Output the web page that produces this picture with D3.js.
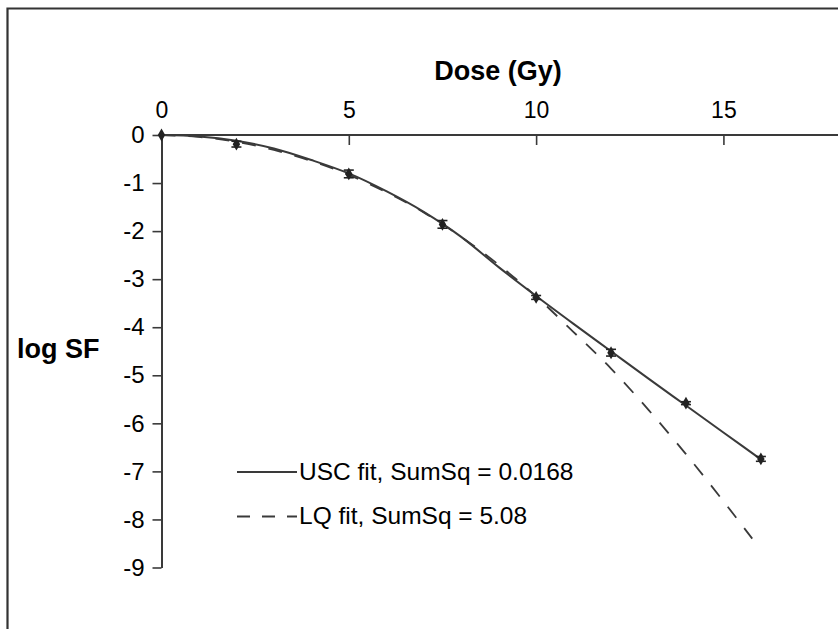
<!DOCTYPE html>
<html>
<head>
<meta charset="utf-8">
<script src="https://cdn.jsdelivr.net/npm/d3@7/dist/d3.min.js"></script>
<style>
  html, body { margin: 0; padding: 0; background: #fff; }
  svg { display: block; }
  text { font-family: "Liberation Sans", Arial, sans-serif; fill: #000; }
</style>
</head>
<body>
<svg id="chart" width="838" height="629"></svg>
<script>
// Measured survival: dose (Gy), log10 surviving fraction, error half-width
const doses  = [0, 2, 5, 7.5, 10, 12, 14, 16];
const logSF  = [0, -0.19, -0.81, -1.86, -3.38, -4.53, -5.58, -6.74];
const errors = [0, 0.06, 0.08, 0.08, 0.04, 0.07, 0.03, 0.05];

// Universal survival curve fit
const uscDose  = [0, 1, 2, 3, 4, 5, 6, 7, 8, 9, 10, 11, 12, 13, 14, 15, 16];
const uscLogSF = [0, -0.03, -0.12, -0.28, -0.52, -0.80, -1.17, -1.60, -2.12, -2.75, -3.35, -3.93, -4.50, -5.07, -5.63, -6.19, -6.75];

// Linear-quadratic fit
const lqDose  = [0, 1, 2, 3, 4, 5, 6, 7, 8, 9, 10, 11, 12, 13, 14, 15, 15.77];
const lqLogSF = [0, -0.04, -0.14, -0.31, -0.54, -0.83, -1.19, -1.61, -2.12, -2.70, -3.36, -4.10, -4.86, -5.72, -6.64, -7.62, -8.40];

const xTicks = [0, 5, 10, 15];
const yTicks = [0, -1, -2, -3, -4, -5, -6, -7, -8, -9];

const legendLabels = ["USC fit, SumSq = 0.0168", "LQ fit, SumSq = 5.08"];

const ink = "#3a3a3a";
const svg = d3.select("#chart");

// outer frame (open to the right and bottom)
svg.append("path")
  .attr("d", "M7.5,629 V8.5 H838")
  .attr("fill", "none")
  .attr("stroke", "#333")
  .attr("stroke-width", 2.2);

const x = d3.scaleLinear().domain([0, 18]).range([161.5, 835.8]);
const y = d3.scaleLinear().domain([0, -9]).range([135, 567.5]);

// x axis along log SF = 0, labels above, ticks pointing down
const xAxis = svg.append("g")
  .attr("transform", `translate(0,${y(0)})`)
  .call(d3.axisTop(x).tickValues(xTicks).tickSizeInner(-10).tickSizeOuter(0).tickPadding(17));
xAxis.select(".domain").attr("d", `M${x(0)},0H838`);

// y axis at dose = 0
const yAxis = svg.append("g")
  .attr("transform", `translate(${x(0)},0)`)
  .call(d3.axisLeft(y).tickValues(yTicks).tickSize(9).tickSizeOuter(0).tickPadding(8)
    .tickFormat(d => d === 0 ? "0" : "-" + Math.abs(d)));

[xAxis, yAxis].forEach(g => {
  g.selectAll(".domain").attr("stroke", ink).attr("stroke-width", 2);
  g.selectAll(".tick line").attr("stroke", ink).attr("stroke-width", 1.6);
  g.selectAll(".tick text")
    .attr("fill", "#000")
    .style("font-family", '"Liberation Sans", Arial, sans-serif');
});
xAxis.selectAll(".tick text").attr("dy", "0").style("font-size", "23px");
yAxis.selectAll(".tick text").style("font-size", "24px");

// axis titles
svg.append("text")
  .attr("x", 498).attr("y", 80)
  .attr("text-anchor", "middle")
  .style("font-size", "27px").style("font-weight", "bold")
  .text("Dose (Gy)");
svg.append("text")
  .attr("x", 17).attr("y", 358)
  .style("font-size", "27px").style("font-weight", "bold")
  .text("log SF");

// fitted curves
const line = d3.line().x(d => x(d[0])).y(d => y(d[1])).curve(d3.curveMonotoneX);

svg.append("path")
  .datum(lqDose.map((d, i) => [d, lqLogSF[i]]))
  .attr("d", line)
  .attr("fill", "none")
  .attr("stroke", ink)
  .attr("stroke-width", 1.8)
  .attr("stroke-dasharray", "14,13");

svg.append("path")
  .datum(uscDose.map((d, i) => [d, uscLogSF[i]]))
  .attr("d", line)
  .attr("fill", "none")
  .attr("stroke", ink)
  .attr("stroke-width", 2);

// data points with error bars
const pts = doses.map((d, i) => ({ d, v: logSF[i], e: errors[i] }));
const eb = svg.append("g").attr("stroke", "#222").attr("stroke-width", 1.6);
pts.filter(p => p.e > 0).forEach(p => {
  const cx = x(p.d);
  eb.append("line").attr("x1", cx).attr("x2", cx).attr("y1", y(p.v + p.e)).attr("y2", y(p.v - p.e));
  eb.append("line").attr("x1", cx - 5).attr("x2", cx + 5).attr("y1", y(p.v + p.e)).attr("y2", y(p.v + p.e));
  eb.append("line").attr("x1", cx - 5).attr("x2", cx + 5).attr("y1", y(p.v - p.e)).attr("y2", y(p.v - p.e));
});

svg.append("g").selectAll("path")
  .data(pts)
  .join("path")
  .attr("transform", p => `translate(${x(p.d)},${y(p.v)})`)
  .attr("d", d3.symbol(d3.symbolDiamond, 48))
  .attr("fill", "#222");

// legend
const legend = svg.append("g");
const legendY = [472, 516.5];
legendLabels.forEach((label, i) => {
  legend.append("line")
    .attr("x1", 237).attr("x2", 297)
    .attr("y1", legendY[i]).attr("y2", legendY[i])
    .attr("stroke", ink)
    .attr("stroke-width", 1.8)
    .attr("stroke-dasharray", i === 1 ? "13,12" : null);
  legend.append("text")
    .attr("x", 299).attr("y", legendY[i] + 7.5)
    .style("font-size", "24.5px")
    .text(label);
});
</script>
</body>
</html>
